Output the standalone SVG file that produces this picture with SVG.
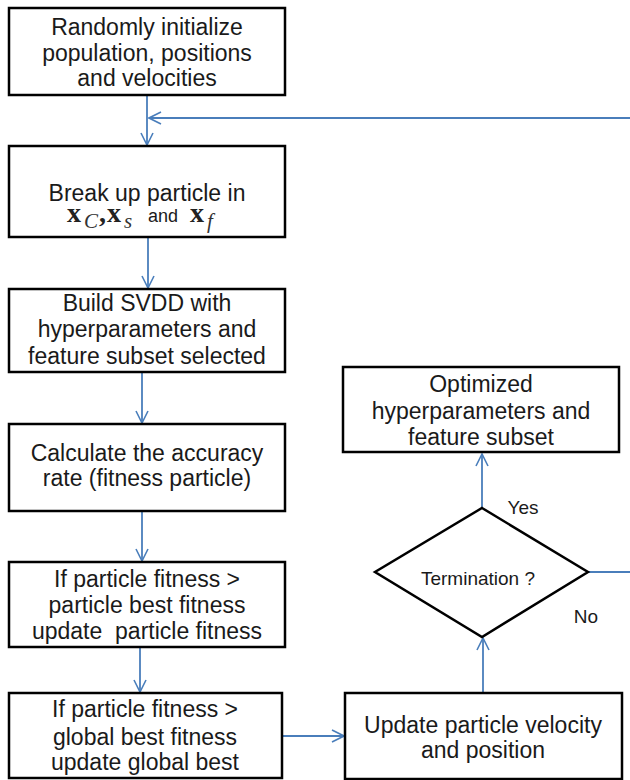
<svg xmlns="http://www.w3.org/2000/svg" width="630" height="780" viewBox="0 0 630 780">
<defs>
<marker id="arr" viewBox="0 0 14 14" refX="13" refY="7" markerWidth="14" markerHeight="14" markerUnits="userSpaceOnUse" orient="auto">
<path d="M1,1 L13,7 L1,13" fill="none" stroke="#4a7ebb" stroke-width="1.6"/>
</marker>
<style>
.box{fill:#fff;stroke:#000;stroke-width:2.5}
.t{font-family:"Liberation Sans",Arial,sans-serif;font-size:23px;fill:#1a1a1a;text-anchor:middle}
.s{font-family:"Liberation Sans",Arial,sans-serif;font-size:19px;fill:#1a1a1a;text-anchor:middle}
.c{fill:none;stroke:#4a7ebb;stroke-width:1.8}
.mx{font-family:"Liberation Serif","Times New Roman",serif;font-weight:bold;font-size:28px;fill:#222}
.mi{font-family:"Liberation Serif","Times New Roman",serif;font-style:italic;font-size:21px;fill:#333}
</style>
</defs>
<rect width="630" height="780" fill="#fff"/>
<g id="connectors">
<line class="c" x1="147" y1="95" x2="147" y2="145" marker-end="url(#arr)"/>
<line class="c" x1="630" y1="118" x2="149" y2="118" marker-end="url(#arr)"/>
<line class="c" x1="148" y1="237" x2="148" y2="288" marker-end="url(#arr)"/>
<line class="c" x1="142" y1="372" x2="142" y2="423" marker-end="url(#arr)"/>
<line class="c" x1="142" y1="511" x2="142" y2="561" marker-end="url(#arr)"/>
<line class="c" x1="140" y1="647" x2="140" y2="692" marker-end="url(#arr)"/>
<line class="c" x1="282" y1="736" x2="344" y2="736" marker-end="url(#arr)"/>
<line class="c" x1="483" y1="693" x2="483" y2="638" marker-end="url(#arr)"/>
<line class="c" x1="482" y1="508" x2="482" y2="454" marker-end="url(#arr)"/>
<line class="c" x1="588" y1="572" x2="630" y2="572"/>
<text class="s" x="523" y="514">Yes</text>
<text class="s" x="586" y="623">No</text>
</g>
<g id="n1">
<rect class="box" x="9" y="8" width="276" height="87"/>
<text class="t" x="147" y="35">Randomly initialize</text>
<text class="t" x="147" y="61">population, positions</text>
<text class="t" x="147" y="86">and velocities</text>
</g>
<g id="n2">
<rect class="box" x="9" y="146" width="276" height="91"/>
<text class="t" x="147" y="201">Break up particle in</text>
<text class="mx" x="67" y="222">x</text>
<text class="mi" x="84" y="228">C</text>
<text class="mx" x="99" y="222">,</text>
<text class="mx" x="107" y="222">x</text>
<text class="mi" x="124" y="228">s</text>
<text x="148" y="222" font-family="Liberation Sans, Arial, sans-serif" font-size="18" fill="#1a1a1a">and</text>
<text class="mx" x="190" y="222">x</text>
<text class="mi" x="207" y="228">f</text>
</g>
<g id="n3">
<rect class="box" x="9" y="289" width="276" height="83"/>
<text class="t" x="147" y="311">Build SVDD with</text>
<text class="t" x="147" y="337">hyperparameters and</text>
<text class="t" x="147" y="364">feature subset selected</text>
</g>
<g id="n4">
<rect class="box" x="9" y="424" width="276" height="87"/>
<text class="t" x="147" y="461">Calculate the accuracy</text>
<text class="t" x="147" y="486">rate (fitness particle)</text>
</g>
<g id="n5">
<rect class="box" x="9" y="562" width="276" height="85"/>
<text class="t" x="147" y="587">If particle fitness &gt;</text>
<text class="t" x="147" y="613">particle best fitness</text>
<text class="t" x="147" y="639" style="white-space:pre">update  particle fitness</text>
</g>
<g id="n6">
<rect class="box" x="9" y="693" width="273" height="85"/>
<text class="t" x="145" y="717">If particle fitness &gt;</text>
<text class="t" x="145" y="745">global best fitness</text>
<text class="t" x="145" y="770">update global best</text>
</g>
<g id="n7">
<rect class="box" x="345" y="693" width="277" height="86"/>
<text class="t" x="483" y="733">Update particle velocity</text>
<text class="t" x="483" y="758">and position</text>
</g>
<g id="n8">
<polygon class="box" points="482,508 588,572 482,637 375,572"/>
<text class="s" x="478" y="585">Termination ?</text>
</g>
<g id="n9">
<rect class="box" x="343" y="367" width="276" height="85"/>
<text class="t" x="481" y="392">Optimized</text>
<text class="t" x="481" y="419">hyperparameters and</text>
<text class="t" x="481" y="445">feature subset</text>
</g>
</svg>
